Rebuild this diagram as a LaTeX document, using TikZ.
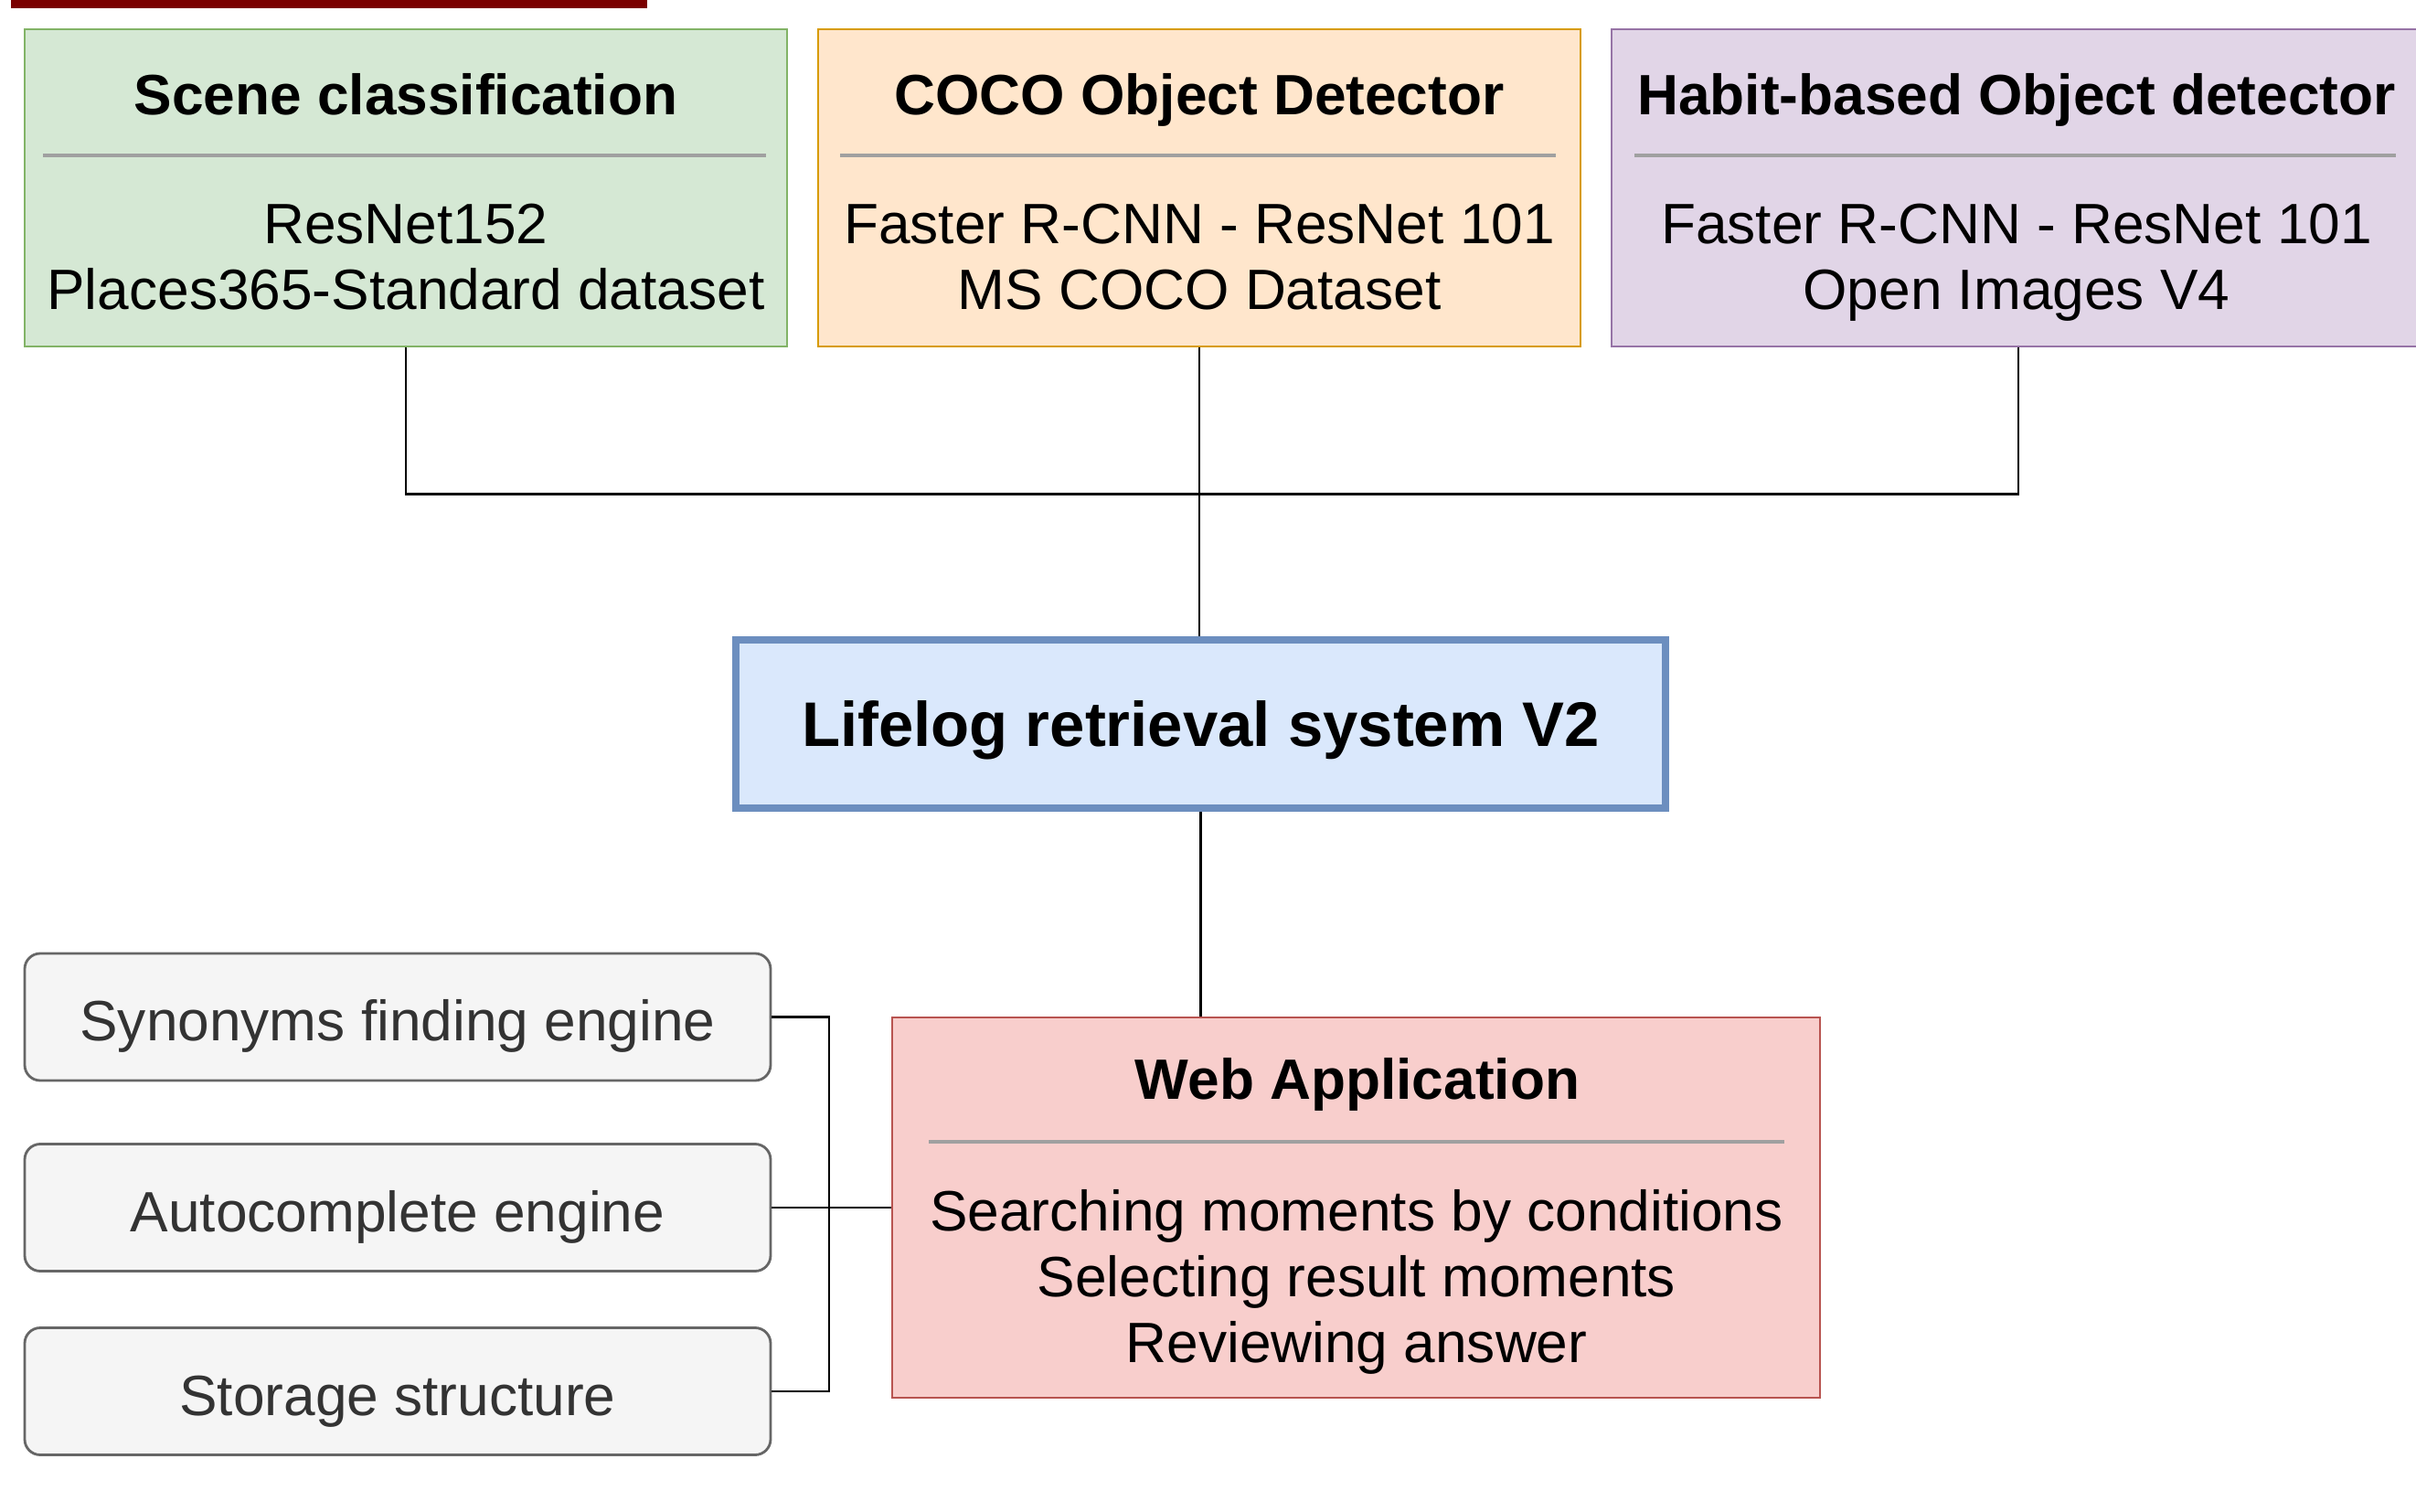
\documentclass[tikz,border=0pt]{standalone}
\usepackage{fontspec}
\setmainfont{Liberation Sans}
\usetikzlibrary{positioning}

\definecolor{barred}{HTML}{7A0000}
\definecolor{greenfill}{HTML}{D5E8D4}
\definecolor{greenline}{HTML}{82B366}
\definecolor{orangefill}{HTML}{FFE6CC}
\definecolor{orangeline}{HTML}{D79B00}
\definecolor{purplefill}{HTML}{E1D5E7}
\definecolor{purpleline}{HTML}{9673A6}
\definecolor{bluefill}{HTML}{DAE8FC}
\definecolor{blueline}{HTML}{6C8EBF}
\definecolor{redfill}{HTML}{F8CECC}
\definecolor{redline}{HTML}{B85450}
\definecolor{toolfill}{HTML}{F5F5F5}
\definecolor{toolline}{HTML}{666666}
\definecolor{tooltext}{HTML}{333333}
\definecolor{sepgray}{HTML}{A0A0A0}

\begin{document}
\begin{tikzpicture}[
  box/.style={draw, line width=0.8pt, inner sep=0pt, minimum height=3.47cm},
  txt/.style={align=center, inner sep=0pt, text depth=0pt, font=\fontsize{17.7}{20.6}\selectfont},
  head/.style={align=center, inner sep=0pt, text depth=0pt, font=\fontsize{17.7}{20.6}\selectfont\bfseries},
  sep/.style={draw=sepgray, line width=1.1pt},
  tool/.style={draw=toolline, fill=toolfill, rounded corners=0.17cm, line width=0.8pt,
    minimum width=8.16cm, minimum height=1.39cm, inner sep=0pt, text=tooltext,
    text height=0.52cm, text depth=0pt, font=\fontsize{17.7}{20.6}\selectfont},
  link/.style={line width=0.75pt}
]

% 画布
\useasboundingbox (0,0) rectangle (26.43,-16.54);
\fill[barred] (0.12,0) rectangle (7.08,-0.09);

% 上方三个模型
\node[box, draw=greenline, fill=greenfill, minimum width=8.34cm] (scene) at (4.44,-2.055) {};
\node[head] (scenehead) at (4.44,-1.03) {Scene classification};
\draw[sep] (0.47,-1.70) -- (8.38,-1.70);
\node[txt] (scenebody) at (4.44,-2.805) {ResNet152\\Places365-Standard dataset};

\node[box, draw=orangeline, fill=orangefill, minimum width=8.34cm] (coco) at (13.12,-2.055) {};
\node[head] (cocohead) at (13.12,-1.03) {COCO Object Detector};
\draw[sep] (9.19,-1.70) -- (17.02,-1.70);
\node[txt] (cocobody) at (13.12,-2.805) {Faster R-CNN - ResNet 101\\MS COCO Dataset};

\node[box, draw=purpleline, fill=purplefill, minimum width=8.90cm] (habit) at (22.08,-2.055) {};
\node[head] (habithead) at (22.06,-1.03) {Habit-based Object detector};
\draw[sep] (17.88,-1.70) -- (26.21,-1.70);
\node[txt] (habitbody) at (22.06,-2.805) {Faster R-CNN - ResNet 101\\Open Images V4};

% 中间的系统
\node[draw=blueline, fill=bluefill, line width=2.4pt, minimum width=10.17cm, minimum height=1.84cm,
  inner sep=0pt, text depth=0pt, font=\fontsize{19.6}{23}\selectfont\bfseries] (core) at (13.135,-7.92)
  {Lifelog retrieval system V2};

% 网页应用
\node[box, draw=redline, fill=redfill, minimum width=10.15cm, minimum height=4.16cm] (web) at (14.835,-13.21) {};
\node[head] (webhead) at (14.85,-11.80) {Web Application};
\draw[sep] (10.16,-12.49) -- (19.52,-12.49);
\node[txt] (webbody) at (14.84,-13.96) {Searching moments by conditions\\Selecting result moments\\Reviewing answer};

% 左下方的组件
\node[tool] (syn) at (4.35,-11.125) {Synonyms finding engine};
\node[tool] (auto) at (4.35,-13.21) {Autocomplete engine};
\node[tool] (store) at (4.35,-15.22) {Storage structure};

% 连线
\draw[link] (scene.south) -- ++(0,-1.60) -| (habit.south);
\draw[link] (coco.south) -- (coco.south |- core.north);
\draw[link] (core.south) -- (core.south |- web.north);
\coordinate (bus) at (9.07,-13.21);
\draw[link] (syn.east) -| (bus) |- (store.east);
\draw[link] (auto.east) -- (web.west);

\end{tikzpicture}
\end{document}
